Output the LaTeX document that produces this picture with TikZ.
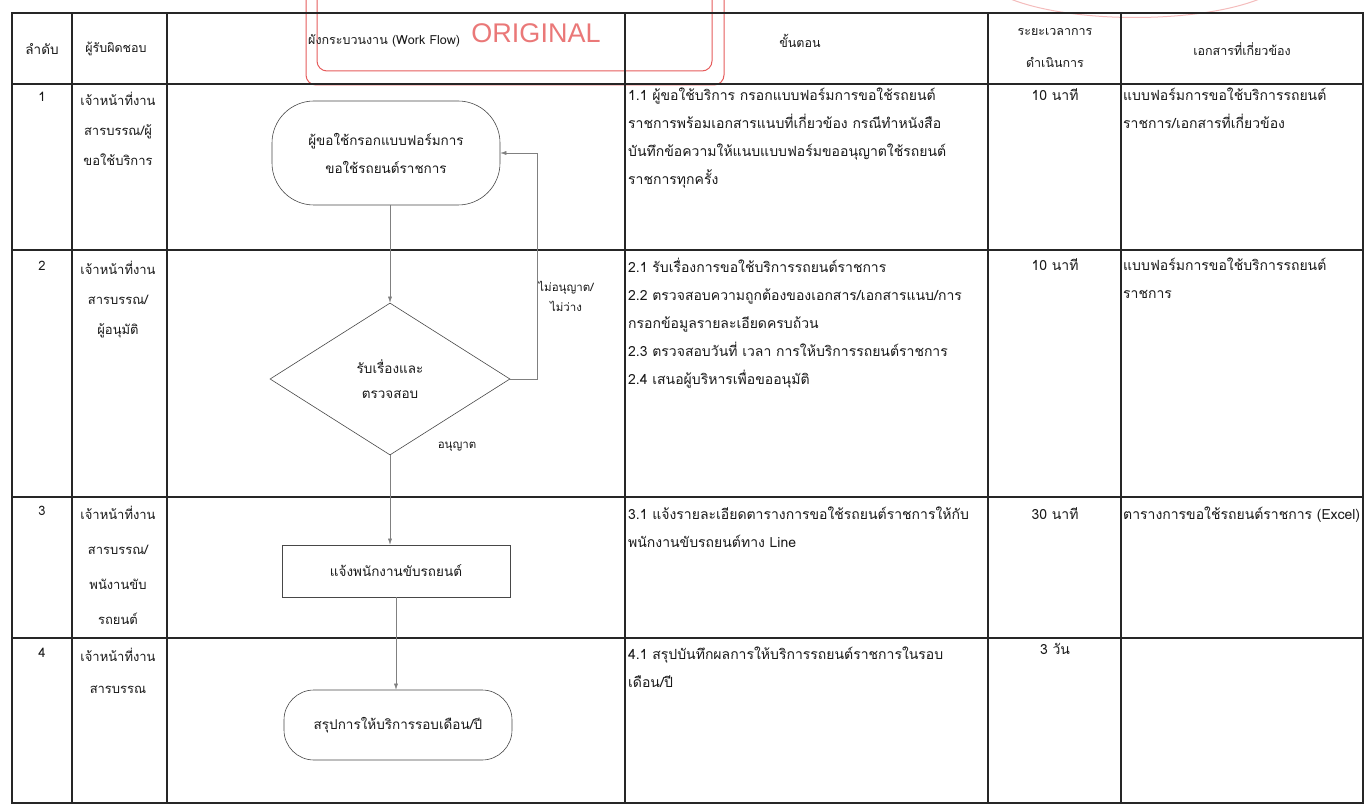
\documentclass[tikz,border=0pt]{standalone}
\usepackage{fontspec}
\setmainfont{Loma}[Script=Thai]
\newfontfamily\stampfont{Liberation Sans}
\usetikzlibrary{arrows.meta,positioning,shapes.geometric}
\definecolor{stampred}{RGB}{226,64,64}
\definecolor{inkgray}{RGB}{72,72,72}

\begin{document}
\begin{tikzpicture}[
    x=1pt, y=-1pt,
    >=Latex,
    grid/.style={line width=1.2pt, black!85},
    txt/.style={inner sep=0pt, text=black!90, font=\fontsize{12.5}{30}\selectfont},
    cell/.style={txt, anchor=north, align=center, font=\fontsize{13}{30}\selectfont},
    stepcell/.style={txt, anchor=north west, align=left, font=\fontsize{14}{28}\selectfont},
    term/.style={draw=inkgray, line width=0.6pt, align=center, txt,
        font=\fontsize{13.5}{28}\selectfont, minimum width=228pt},
    decision/.style={diamond, draw=inkgray, line width=0.6pt, align=center, txt,
        font=\fontsize{13.5}{25}\selectfont, aspect=1.6,
        minimum width=240pt, minimum height=152pt},
    procbox/.style={rectangle, draw=inkgray, line width=0.6pt, align=center, txt,
        font=\fontsize{13.5}{28}\selectfont, minimum width=228pt, minimum height=52pt},
    flow/.style={->, line width=0.5pt, black!50, >={Latex[length=6pt,width=4pt]}},
    stampline/.style={stampred, line width=1pt, opacity=0.85}
]

\fill[white] (0,0) rectangle (1369,810);
\useasboundingbox (0,0) rectangle (1369,810);

% stamp over the header
\draw[stampline, rounded corners=10pt] (306,-4) |- (724,85) -- (724,-4);
\draw[stampline, rounded corners=10pt] (317,-4) |- (712,71) -- (712,-4);
\node[text=stampred, opacity=0.7, font=\stampfont\fontsize{27}{30}\selectfont] (stamp) at (536,33) {ORIGINAL};
\draw[stampline, opacity=0.35] (1008,-2) .. controls (1070,24) and (1200,24) .. (1262,-2);

% table frame
\draw[grid] (12,13) rectangle (1363,803);
\draw[grid] (12,84) -- (1363,84);
\draw[grid] (12,250) -- (1363,250);
\draw[grid] (12,497) -- (1363,497);
\draw[grid] (12,638) -- (1363,638);
\draw[grid] (72,13) -- (72,803);
\draw[grid] (167,13) -- (167,803);
\draw[grid] (625,13) -- (625,803);
\draw[grid] (988,13) -- (988,803);
\draw[grid] (1121,13) -- (1121,803);

% header
\node[txt, font=\fontsize{13.5}{30}\selectfont] (hdrno) at (42,49) {ลำดับ};
\node[txt] (hdrresp) at (116,49) {ผู้รับผิดชอบ};
\node[txt, anchor=west] (hdrflow) at (308,41) {ผังกระบวนงาน (Work Flow)};
\node[txt] (hdrstep) at (800,41) {ขั้นตอน};
\node[txt, align=center, font=\fontsize{12.5}{32}\selectfont] (hdrtime) at (1055,48) {ระยะเวลาการ\\ดำเนินการ};
\node[txt] (hdrdoc) at (1242,49) {เอกสารที่เกี่ยวข้อง};

% row 1
\node[cell] (no1) at (42,92) {1};
\node[cell] (resp1) at (118,92) {เจ้าหน้าที่งาน\\สารบรรณ/ผู้\\ขอใช้บริการ};
\node[stepcell] (step1) at (628,88) {1.1 ผู้ขอใช้บริการ กรอกแบบฟอร์มการขอใช้รถยนต์\\ราชการพร้อมเอกสารแนบที่เกี่ยวข้อง กรณีทำหนังสือ\\บันทึกข้อความให้แนบแบบฟอร์มขออนุญาตใช้รถยนต์\\ราชการทุกครั้ง};
\node[cell, font=\fontsize{14}{28}\selectfont] (time1) at (1055,88) {10 นาที};
\node[stepcell] (doc1) at (1123,88) {แบบฟอร์มการขอใช้บริการรถยนต์\\ราชการ/เอกสารที่เกี่ยวข้อง};

% row 2
\node[cell] (no2) at (42,261) {2};
\node[cell] (resp2) at (118,261) {เจ้าหน้าที่งาน\\สารบรรณ/\\ผู้อนุมัติ};
\node[stepcell] (step2) at (628,258) {2.1 รับเรื่องการขอใช้บริการรถยนต์ราชการ\\2.2 ตรวจสอบความถูกต้องของเอกสาร/เอกสารแนบ/การ\\กรอกข้อมูลรายละเอียดครบถ้วน\\2.3 ตรวจสอบวันที่ เวลา การให้บริการรถยนต์ราชการ\\2.4 เสนอผู้บริหารเพื่อขออนุมัติ};
\node[cell, font=\fontsize{14}{28}\selectfont] (time2) at (1055,258) {10 นาที};
\node[stepcell] (doc2) at (1123,258) {แบบฟอร์มการขอใช้บริการรถยนต์\\ราชการ};

% row 3
\node[cell] (no3) at (42,506) {3};
\node[cell, font=\fontsize{13}{35}\selectfont] (resp3) at (118,506) {เจ้าหน้าที่งาน\\สารบรรณ/\\พนังานขับ\\รถยนต์};
\node[stepcell] (step3) at (628,507) {3.1 แจ้งรายละเอียดตารางการขอใช้รถยนต์ราชการให้กับ\\พนักงานขับรถยนต์ทาง Line};
\node[cell, font=\fontsize{14}{28}\selectfont] (time3) at (1055,507) {30 นาที};
\node[stepcell] (doc3) at (1123,507) {ตารางการขอใช้รถยนต์ราชการ (Excel)};

% row 4
\node[cell] (no4) at (42,648) {4};
\node[cell, font=\fontsize{13}{32}\selectfont] (resp4) at (118,648) {เจ้าหน้าที่งาน\\สารบรรณ};
\node[stepcell] (step4) at (628,647) {4.1 สรุปบันทึกผลการให้บริการรถยนต์ราชการในรอบ\\เดือน/ปี};
\node[cell, font=\fontsize{14}{28}\selectfont] (time4) at (1055,643) {3 วัน};

% work flow
\node[term, rounded corners=42pt, minimum height=104pt] (request) at (386,153) {ผู้ขอใช้กรอกแบบฟอร์มการ\\ขอใช้รถยนต์ราชการ};
\node[decision] (check) at (390,379) {รับเรื่องและ\\ตรวจสอบ};
\node[procbox] (notify) at (396,571) {แจ้งพนักงานขับรถยนต์};
\node[term, rounded corners=30pt, minimum height=70pt] (summary) at (398,725) {สรุปการให้บริการรอบเดือน/ปี};

\node[txt, align=center, font=\fontsize{11.5}{20}\selectfont] (deny) at (566,296) {ไม่อนุญาต/\\ไม่ว่าง};
\node[txt, font=\fontsize{11.5}{20}\selectfont] (allow) at (457,447) {อนุญาต};

\draw[flow] (request.south -| check.north) -- (check.north);
\draw[flow] (check.south) -- (check.south |- notify.north);
\draw[flow] (notify.south) -- (notify.south |- summary.north);
\draw[flow] (check.east) -- ++(27,0) |- (request.east);

\end{tikzpicture}
\end{document}
